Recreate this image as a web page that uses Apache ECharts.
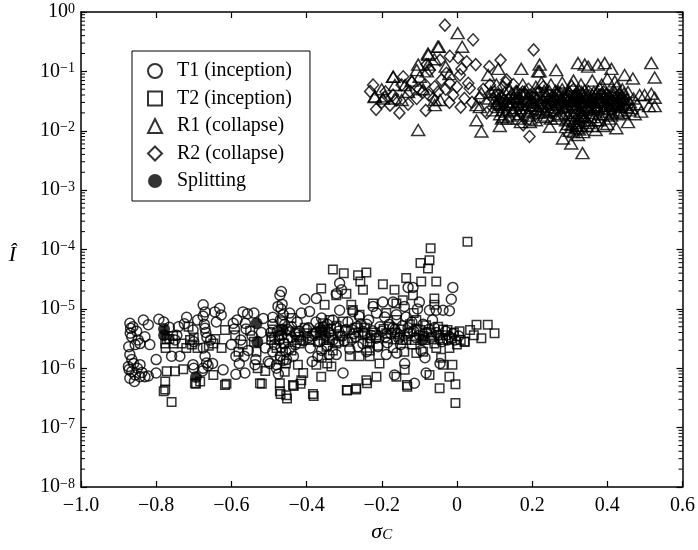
<!DOCTYPE html>
<html>
<head>
<meta charset="utf-8">
<script src="https://cdn.jsdelivr.net/npm/echarts@6/dist/echarts.min.js"></script>
<style>
  html, body { margin: 0; padding: 0; background: #fff; }
  #main { width: 698px; height: 550px; }
</style>
</head>
<body>
<div id="main"></div>
<script>
// data: [sigma_C, I-hat]

var seriesNames = ['T1 (inception)', 'T2 (inception)', 'R1 (collapse)', 'R2 (collapse)', 'Splitting'];

var t1Points = [
  [-0.870,5.7e-6],[-0.868,4.7e-6],[-0.865,3.4e-6],[-0.856,2.5e-6],[-0.843,2.6e-6],[-0.830,3.4e-6],
  [-0.821,5.4e-6],[-0.834,6.5e-6],[-0.817,2.5e-6],[-0.870,1.7e-6],[-0.865,1.4e-6],[-0.874,1.07e-6],
  [-0.865,8.8e-7],[-0.870,6.8e-7],[-0.856,7.7e-7],[-0.843,7.2e-7],[-0.830,7.2e-7],[-0.821,7.4e-7],
  [-0.843,1.15e-6],[-0.850,1.0e-6],[-0.860,1.2e-6],[-0.872,9.5e-7],[-0.862,5.0e-6],[-0.852,4.2e-6],
  [-0.848,3.0e-6],[-0.858,6.0e-7],[-0.838,8.5e-7],[-0.800,1.4e-6],[-0.800,8.3e-7],[-0.793,6.7e-6],
  [-0.873,2.3e-6],[-0.869,3.9e-6],
  [-0.759,1.6e-6],[-0.750,3.0e-6],[-0.741,5.0e-6],[-0.719,7.2e-6],[-0.737,1.6e-6],[-0.702,1.15e-6],
  [-0.702,4.4e-6],[-0.700,2.8e-6],[-0.675,1.17e-5],[-0.670,8.9e-6],[-0.675,7.5e-6],[-0.670,4.7e-6],
  [-0.668,4.0e-6],[-0.675,2.2e-6],[-0.670,1.6e-6],[-0.666,1.23e-6],[-0.675,1.0e-6],[-0.662,1.1e-6],
  [-0.650,1.2e-6],[-0.644,8.9e-6],[-0.631,1.02e-5],[-0.627,7.9e-6],[-0.640,6.0e-6],[-0.622,9.4e-7],
  [-0.677,9.0e-7],[-0.672,5.5e-6],[-0.665,3.3e-6],[-0.745,3.6e-6],[-0.725,5.6e-6],[-0.780,6.0e-6],
  [-0.765,4.9e-6],[-0.700,1.0e-6],[-0.690,6.5e-6],[-0.655,3.0e-6],
  [-0.595,5.7e-6],[-0.592,4.6e-6],[-0.600,2.5e-6],[-0.588,1.6e-6],[-0.579,1.2e-6],[-0.569,8.9e-6],
  [-0.557,8.3e-6],[-0.563,5.7e-6],[-0.561,4.6e-6],[-0.566,1.6e-6],[-0.537,1.15e-6],[-0.535,1.4e-6],
  [-0.564,8.3e-7],[-0.588,7.9e-7],[-0.515,6.9e-6],[-0.490,7.2e-6],[-0.490,1.9e-6],[-0.480,1.15e-6],
  [-0.502,1.3e-6],[-0.545,3.5e-6],[-0.520,4.0e-6],[-0.510,2.2e-6],[-0.575,3.0e-6],[-0.555,2.0e-6],
  [-0.540,8.5e-6],[-0.585,6.5e-6],
  [-0.467,1.96e-5],[-0.471,1.7e-5],[-0.468,1.0e-5],[-0.476,1.1e-5],[-0.465,1.2e-5],[-0.462,8.0e-6],
  [-0.470,6.5e-6],[-0.458,5.5e-6],[-0.466,3.6e-6],[-0.472,3.0e-6],[-0.460,2.6e-6],[-0.468,2.2e-6],
  [-0.455,1.9e-6],[-0.470,1.6e-6],[-0.462,1.35e-6],[-0.498,1.2e-6],[-0.480,1.0e-6],[-0.445,8.5e-6],
  [-0.414,8.5e-6],[-0.392,9.0e-6],[-0.405,1.45e-5],[-0.374,1.5e-5],[-0.450,4.5e-6],[-0.440,3.3e-6],
  [-0.430,2.5e-6],[-0.420,4.2e-6],[-0.410,2.9e-6],[-0.425,6.0e-6],[-0.435,1.6e-6],[-0.446,2.1e-6],
  [-0.478,4.2e-6],[-0.485,2.5e-6],[-0.490,5.5e-6],[-0.453,1.4e-6],[-0.475,8.0e-7],
  [-0.312,2.7e-5],[-0.307,2.1e-5],[-0.321,1.8e-5],[-0.312,9.5e-6],[-0.360,7.0e-6],[-0.355,5.0e-6],
  [-0.350,3.5e-6],[-0.365,2.8e-6],[-0.360,2.0e-6],[-0.370,1.6e-6],[-0.345,2.4e-6],[-0.340,4.0e-6],
  [-0.330,3.0e-6],[-0.380,3.8e-6],[-0.395,4.8e-6],[-0.390,2.2e-6],[-0.375,6.0e-6],[-0.340,1.7e-6],
  [-0.321,1.7e-6],[-0.303,8.3e-7],[-0.330,6.5e-6],[-0.315,4.2e-6],[-0.300,2.9e-6],[-0.385,1.3e-6],
  [-0.277,9.0e-6],[-0.263,2.3e-6],[-0.223,1.1e-5],[-0.214,8.5e-6],[-0.197,1.3e-5],[-0.192,7.3e-6],
  [-0.290,6.0e-6],[-0.280,4.5e-6],[-0.270,3.4e-6],[-0.255,5.5e-6],[-0.245,3.8e-6],[-0.235,6.5e-6],
  [-0.225,4.3e-6],[-0.215,3.2e-6],[-0.205,5.0e-6],[-0.250,2.6e-6],[-0.240,1.9e-6],[-0.285,2.1e-6],
  [-0.260,7.5e-6],[-0.210,2.3e-6],
  [-0.188,1.7e-6],[-0.170,1.3e-5],[-0.166,7.7e-7],[-0.161,8.0e-6],[-0.139,1.2e-6],[-0.135,7.3e-6],
  [-0.130,2.3e-5],[-0.117,2.3e-5],[-0.113,5.6e-7],[-0.180,5.5e-6],[-0.175,3.8e-6],[-0.165,4.5e-6],
  [-0.155,3.2e-6],[-0.145,5.2e-6],[-0.150,2.5e-6],[-0.125,4.0e-6],[-0.120,6.0e-6],[-0.110,3.3e-6],
  [-0.105,1.0e-5],[-0.140,1.1e-5],[-0.185,2.7e-6],[-0.160,1.8e-6],
  [-0.082,8.3e-7],[-0.073,9.5e-6],[-0.055,9.5e-6],[-0.037,9.5e-6],[-0.020,9.3e-6],[-0.015,1.45e-5],
  [-0.011,2.3e-5],[-0.090,5.5e-6],[-0.080,4.0e-6],[-0.070,3.2e-6],[-0.060,4.8e-6],[-0.050,3.6e-6],
  [-0.040,2.8e-6],[-0.030,4.2e-6],[-0.020,3.4e-6],[-0.010,3.8e-6],[-0.095,2.0e-6],[-0.085,1.5e-6],
  [-0.065,6.5e-6],[-0.045,1.2e-6],[-0.005,3.0e-6],[0.005,3.5e-6],[-0.100,1.3e-5],
  [-0.495,4.0e-6],[-0.485,3.3e-6],[-0.440,5.0e-6],[-0.430,3.8e-6],[-0.415,3.0e-6],[-0.400,4.5e-6],
  [-0.395,3.3e-6],[-0.375,4.0e-6],[-0.365,4.8e-6],[-0.345,5.5e-6],[-0.335,3.6e-6],[-0.320,4.8e-6],
  [-0.305,3.5e-6],[-0.295,4.5e-6],[-0.275,3.8e-6],[-0.265,5.0e-6],[-0.250,4.2e-6],[-0.240,5.5e-6],
  [-0.228,3.6e-6],[-0.200,4.2e-6],[-0.190,3.4e-6],[-0.170,4.8e-6],[-0.158,3.8e-6],[-0.140,3.6e-6],
  [-0.130,4.8e-6],[-0.115,4.2e-6],[-0.100,3.6e-6],[-0.075,4.5e-6],[-0.055,4.0e-6],[-0.025,3.0e-6]
];

var t2Points = [
  [-0.776,2.6e-6],[-0.772,3.1e-6],[-0.765,3.1e-6],[-0.754,2.6e-6],[-0.714,5.0e-6],[-0.705,2.5e-6],
  [-0.710,3.0e-6],[-0.732,2.6e-6],[-0.772,8.9e-7],[-0.750,8.9e-7],[-0.728,9.6e-7],[-0.776,6.0e-7],
  [-0.776,4.4e-7],[-0.759,2.7e-7],[-0.697,5.6e-7],[-0.683,6.0e-7],[-0.617,5.2e-7],[-0.648,7.7e-7],
  [-0.617,4.4e-6],[-0.626,2.2e-6],[-0.648,2.6e-6],[-0.643,3.1e-6],[-0.775,2.2e-6],[-0.755,3.5e-6],
  [-0.690,2.2e-6],[-0.694,5.5e-7],[-0.780,4.1e-7],[-0.700,3.3e-6],[-0.720,2.2e-6],[-0.660,2.4e-6],
  [-0.581,1.9e-6],[-0.533,1.9e-6],[-0.493,3.4e-6],[-0.524,5.6e-7],[-0.519,5.5e-7],[-0.613,5.5e-7],
  [-0.550,4.3e-6],[-0.510,9.0e-7],[-0.590,3.6e-6],[-0.570,2.5e-6],[-0.540,2.8e-6],[-0.530,1.0e-6],
  [-0.454,3.5e-7],[-0.471,4.1e-7],[-0.471,5.6e-7],[-0.458,8.7e-7],[-0.452,3.1e-7],[-0.469,3.7e-7],
  [-0.434,5.0e-7],[-0.416,5.5e-7],[-0.436,5.2e-7],[-0.414,6.3e-7],[-0.409,8.3e-7],[-0.423,1.15e-6],
  [-0.418,2.6e-6],[-0.400,3.9e-6],[-0.392,3.0e-6],[-0.494,3.0e-6],[-0.480,2.2e-6],[-0.460,2.6e-6],
  [-0.450,3.2e-6],[-0.440,2.0e-6],[-0.470,1.4e-6],[-0.430,4.0e-6],[-0.420,3.4e-6],[-0.455,1.2e-6],
  [-0.465,6.2e-6],[-0.440,7.0e-6],
  [-0.383,3.7e-7],[-0.381,3.4e-7],[-0.361,7.2e-7],[-0.334,1.07e-6],[-0.374,1.15e-6],[-0.361,2.2e-5],
  [-0.352,1.17e-5],[-0.330,4.6e-5],[-0.321,1.7e-5],[-0.321,2.6e-6],[-0.347,2.3e-6],[-0.356,5.7e-6],
  [-0.339,6.5e-6],[-0.360,3.6e-6],[-0.350,4.4e-6],[-0.340,3.0e-6],[-0.370,2.8e-6],[-0.330,2.0e-6],
  [-0.310,3.5e-6],[-0.320,5.2e-6],[-0.303,6.1e-6],[-0.360,1.5e-6],[-0.345,1.2e-6],
  [-0.301,4.0e-5],[-0.263,3.7e-5],[-0.241,4.1e-5],[-0.257,2.9e-5],[-0.294,1.8e-5],[-0.250,2.1e-5],
  [-0.281,1.17e-5],[-0.223,1.23e-5],[-0.232,2.6e-6],[-0.232,2.0e-6],[-0.232,1.6e-6],[-0.259,1.6e-6],
  [-0.285,1.6e-6],[-0.206,1.2e-6],[-0.214,7.2e-7],[-0.241,6.3e-7],[-0.268,4.6e-7],[-0.293,4.3e-7],
  [-0.239,5.6e-7],[-0.268,4.4e-7],[-0.292,4.2e-7],[-0.259,8.0e-6],[-0.277,9.6e-6],[-0.230,3.2e-6],
  [-0.220,4.0e-6],[-0.270,4.8e-6],[-0.250,3.6e-6],[-0.210,2.4e-6],[-0.290,2.8e-6],
  [-0.197,2.6e-5],[-0.166,2.1e-5],[-0.135,3.3e-5],[-0.117,1.7e-5],[-0.144,1.4e-5],[-0.188,8.5e-6],
  [-0.161,1.23e-5],[-0.161,7.2e-7],[-0.139,9.4e-7],[-0.133,5.2e-7],[-0.132,4.9e-7],[-0.135,3.0e-6],
  [-0.152,3.4e-6],[-0.188,3.9e-6],[-0.108,1.8e-6],[-0.161,6.5e-6],[-0.108,6.5e-6],[-0.108,4.5e-6],
  [-0.120,2.5e-6],[-0.170,2.2e-6],[-0.180,5.0e-6],[-0.150,4.5e-6],[-0.125,5.5e-6],[-0.115,8.5e-6],
  [-0.140,1.9e-6],
  [-0.070,1.05e-4],[0.028,1.35e-4],[-0.097,5.9e-5],[-0.073,6.6e-5],[-0.077,4.8e-5],[-0.095,2.9e-5],
  [-0.055,2.9e-5],[-0.060,1.5e-5],[-0.060,1.17e-5],[0.007,4.2e-6],[0.020,2.8e-6],[-0.020,2.2e-6],
  [-0.042,1.5e-6],[-0.037,1.15e-6],[-0.012,1.15e-6],[-0.020,7.2e-7],[-0.004,5.4e-7],[-0.046,4.6e-7],
  [-0.004,2.6e-7],[-0.073,7.7e-7],[-0.090,1.9e-6],[-0.082,5.3e-6],[-0.037,4.5e-6],[-0.037,3.0e-6],
  [-0.015,3.2e-6],[-0.090,3.5e-6],[-0.060,2.6e-6],[-0.070,4.0e-6],[-0.050,5.0e-6],[-0.030,3.6e-6],
  [0.010,3.0e-6],
  [0.052,5.4e-6],[0.082,5.4e-6],[0.100,3.9e-6],[0.065,3.2e-6],[0.021,2.8e-6],[0.035,4.4e-6],[0.045,3.6e-6],
  [-0.490,4.5e-6],[-0.475,3.6e-6],[-0.445,4.2e-6],[-0.425,3.0e-6],[-0.405,4.8e-6],[-0.385,3.5e-6],
  [-0.365,4.0e-6],[-0.355,3.0e-6],[-0.335,4.6e-6],[-0.315,2.8e-6],[-0.298,4.2e-6],[-0.280,3.2e-6],
  [-0.262,4.0e-6],[-0.245,4.8e-6],[-0.238,2.8e-6],[-0.215,3.6e-6],[-0.195,4.6e-6],[-0.185,3.2e-6],
  [-0.165,4.0e-6],[-0.145,3.0e-6],[-0.130,3.8e-6],[-0.112,3.0e-6],[-0.098,4.4e-6],[-0.085,3.0e-6],
  [-0.065,3.4e-6],[-0.045,3.2e-6],[-0.025,4.4e-6],[-0.008,4.0e-6],[0.000,2.5e-6],[-0.055,2.2e-6]
];

var r1Points = [
  [0.002,0.44],[-0.048,0.26],[0.014,0.26],[-0.076,0.19],[-0.103,0.13],[-0.076,0.13],[-0.107,0.105],
  [-0.099,0.081],[-0.169,0.081],[-0.165,0.059],[-0.138,0.059],[-0.218,0.038],[-0.192,0.038],
  [-0.165,0.035],[-0.147,0.033],[-0.059,0.033],[-0.045,0.033],[-0.059,0.027],[-0.103,0.0103],
  [0.052,0.027],[0.052,0.015],[0.065,0.043],[0.065,0.0097],[0.114,0.012],[0.123,0.017],[0.110,0.11],
  [0.083,0.087],[0.061,0.025],[-0.219,0.037],[-0.197,0.035],[-0.170,0.081],[-0.077,0.2],[-0.051,0.26],
  [-0.120,0.07],[-0.090,0.05],[-0.130,0.045],[-0.200,0.05],[-0.080,0.1],[-0.060,0.16],[-0.030,0.12],
  [-0.020,0.09],
  [0.090,0.045],[0.100,0.032],[0.110,0.025],[0.120,0.038],[0.130,0.021],[0.140,0.05],[0.150,0.03],
  [0.105,0.06],[0.125,0.028],[0.135,0.016],[0.145,0.042],[0.095,0.022],[0.115,0.019],[0.085,0.035],
  [0.155,0.024],
  [0.160,0.037],[0.170,0.028],[0.180,0.045],[0.190,0.021],[0.200,0.033],[0.210,0.055],[0.220,0.026],
  [0.230,0.04],[0.240,0.018],[0.250,0.031],[0.165,0.019],[0.175,0.06],[0.185,0.034],[0.195,0.016],
  [0.205,0.042],[0.215,0.023],[0.225,0.065],[0.235,0.029],[0.245,0.047],[0.170,0.014],[0.200,0.027],
  [0.230,0.022],[0.250,0.06],[0.194,0.014],[0.247,0.0117],[0.220,0.1],[0.216,0.10],[0.220,0.13],
  [0.171,0.11],[0.264,0.105],
  [0.260,0.038],[0.270,0.024],[0.280,0.05],[0.290,0.02],[0.300,0.035],[0.310,0.027],[0.320,0.044],
  [0.330,0.018],[0.340,0.03],[0.350,0.023],[0.265,0.016],[0.275,0.033],[0.285,0.041],[0.295,0.013],
  [0.305,0.058],[0.315,0.02],[0.325,0.036],[0.335,0.026],[0.345,0.015],[0.282,0.0074],[0.304,0.0061],
  [0.322,0.0085],[0.334,0.0042],[0.310,0.0095],[0.320,0.011],[0.330,0.012],[0.300,0.01],[0.290,0.0115],
  [0.322,0.138],[0.340,0.13],[0.349,0.12],[0.280,0.065],[0.310,0.07],[0.330,0.06],[0.265,0.028],
  [0.295,0.032],[0.325,0.024],[0.340,0.048],
  [0.360,0.04],[0.370,0.027],[0.380,0.052],[0.390,0.021],[0.400,0.034],[0.410,0.029],[0.420,0.045],
  [0.430,0.019],[0.440,0.038],[0.450,0.025],[0.355,0.031],[0.365,0.017],[0.375,0.036],[0.385,0.06],
  [0.395,0.026],[0.405,0.016],[0.415,0.032],[0.425,0.055],[0.435,0.022],[0.375,0.13],[0.393,0.138],
  [0.411,0.11],[0.369,0.0103],[0.424,0.011],[0.455,0.014],[0.446,0.087],[0.400,0.075],[0.360,0.07],
  [0.420,0.068],[0.440,0.05],[0.390,0.012],
  [0.468,0.076],[0.517,0.138],[0.526,0.079],[0.486,0.04],[0.499,0.04],[0.517,0.042],[0.526,0.036],
  [0.511,0.026],[0.526,0.026],[0.490,0.021],[0.473,0.019],[0.460,0.03],[0.470,0.035],[0.480,0.028],
  [0.455,0.045],[0.465,0.024],
  [0.205,0.03],[0.212,0.036],[0.218,0.02],[0.228,0.033],[0.238,0.04],[0.242,0.025],[0.252,0.037],
  [0.258,0.022],[0.268,0.044],[0.272,0.03],[0.278,0.019],[0.288,0.036],[0.292,0.026],[0.298,0.045],
  [0.302,0.022],[0.308,0.033],[0.312,0.04],[0.318,0.028],[0.322,0.016],[0.328,0.031],[0.332,0.045],
  [0.338,0.022],[0.342,0.035],[0.348,0.027],[0.352,0.04],[0.358,0.02],[0.362,0.033],[0.368,0.025],
  [0.372,0.045],[0.378,0.019],[0.382,0.03],[0.388,0.038],[0.392,0.023],[0.398,0.042],[0.402,0.028],
  [0.408,0.036],[0.412,0.02],[0.418,0.04],[0.422,0.026],[0.428,0.033],[0.432,0.043],[0.438,0.028],
  [0.442,0.02],[0.448,0.033],[0.188,0.027],[0.178,0.038],[0.168,0.024],[0.158,0.045],[0.148,0.022],
  [0.138,0.035],[0.128,0.045],[0.118,0.027],[0.330,0.0145],[0.350,0.0135],[0.310,0.0145],[0.370,0.015],
  [0.300,0.016],[0.340,0.017],[0.318,0.012],[0.336,0.0095],
  [0.102,0.041],[0.108,0.029],[0.112,0.035],[0.122,0.022],[0.132,0.031],[0.142,0.027],[0.152,0.038],
  [0.162,0.031],[0.172,0.042],[0.182,0.022],[0.192,0.036],[0.198,0.024],[0.208,0.026],[0.214,0.044],
  [0.224,0.03],[0.232,0.047],[0.236,0.021],[0.244,0.035],[0.254,0.027],[0.262,0.047],[0.266,0.033],
  [0.274,0.04],[0.284,0.025],[0.286,0.03],[0.294,0.038],[0.306,0.028],[0.314,0.035],[0.316,0.024],
  [0.324,0.04],[0.326,0.02],[0.334,0.033],[0.336,0.041],[0.344,0.025],[0.346,0.038],[0.354,0.035],
  [0.356,0.025],[0.364,0.045],[0.366,0.03],[0.374,0.024],[0.376,0.033],[0.384,0.026],[0.386,0.042],
  [0.394,0.033],[0.396,0.019],[0.404,0.04],[0.406,0.024],[0.414,0.027],[0.416,0.048],[0.424,0.03],
  [0.426,0.021],[0.434,0.036],[0.436,0.025],[0.444,0.042],[0.446,0.027],[0.452,0.035],[0.458,0.022],
  [0.310,0.018],[0.335,0.018],[0.355,0.017],[0.320,0.0135],[0.345,0.012],[0.325,0.0105],[0.305,0.0125],
  [0.290,0.015],[0.360,0.012],[0.380,0.015],[0.400,0.013],[0.410,0.018],[0.270,0.018],[0.250,0.016],
  [0.230,0.017],[0.210,0.015],[0.190,0.018],[0.160,0.016],[0.140,0.018],[0.120,0.016]
];

var r2Points = [
  [-0.032,0.60],[0.043,0.34],[0.050,0.13],[-0.045,0.155],[-0.019,0.18],[0.003,0.17],[0.026,0.145],
  [0.116,0.155],[0.086,0.12],[-0.223,0.059],[-0.231,0.046],[-0.215,0.023],[-0.178,0.027],[-0.153,0.020],
  [-0.161,0.033],[-0.143,0.081],[-0.147,0.059],[-0.125,0.046],[-0.107,0.035],[-0.083,0.022],
  [-0.063,0.035],[-0.059,0.055],[-0.041,0.072],[-0.028,0.093],[-0.019,0.063],[0.008,0.087],[0.012,0.11],
  [0.030,0.063],[0.034,0.052],[-0.072,0.105],[-0.081,0.13],[0.079,0.020],[0.105,0.027],[0.096,0.035],
  [0.088,0.059],[0.132,0.072],[0.123,0.055],[0.158,0.046],[0.176,0.0126],[0.193,0.008],[0.204,0.23],
  [0.120,0.03],[0.140,0.036],[0.160,0.025],[0.180,0.04],[0.200,0.03],[0.220,0.045],[0.240,0.027],
  [0.260,0.035],[0.280,0.03],[0.300,0.042],[0.320,0.03],[0.340,0.037],[0.360,0.028],[0.380,0.04],
  [0.400,0.03],[0.420,0.035],[0.440,0.03],[0.150,0.06],[0.170,0.02],[0.190,0.05],[0.210,0.019],
  [0.230,0.055],[0.250,0.02],[0.270,0.045],[0.290,0.024],[0.310,0.05],[0.330,0.02],[0.350,0.045],
  [0.370,0.022],[0.390,0.045],[0.410,0.022],[0.430,0.04],[0.070,0.05],[0.060,0.035],[0.100,0.045],
  [0.130,0.065],
  [-0.200,0.03],[-0.190,0.045],[-0.170,0.04],[-0.130,0.028],[-0.120,0.065],[-0.100,0.05],[-0.090,0.045],
  [-0.085,0.06],[-0.075,0.04],[-0.050,0.045],[-0.030,0.05],[-0.010,0.04],[0.000,0.055],[0.020,0.035],
  [0.040,0.03],[0.010,0.025],[-0.020,0.03],
  [0.110,0.04],[0.125,0.033],[0.145,0.028],[0.165,0.035],[0.185,0.03],[0.195,0.04],[0.215,0.033],
  [0.235,0.036],[0.255,0.03],[0.265,0.04],[0.285,0.035],[0.305,0.03],[0.315,0.038],[0.335,0.028],
  [0.345,0.033],[0.365,0.035],[0.385,0.03],[0.395,0.036],[0.415,0.03],[0.435,0.033],[0.445,0.025],
  [0.155,0.03],[0.175,0.045],[0.205,0.036],[0.225,0.028],[0.245,0.04],[0.275,0.026],[0.295,0.04],
  [0.325,0.045],[0.355,0.03]
];

var splitPoints = [
  [-0.779,4.6e-6],[-0.779,3.6e-6],[-0.694,7.1e-7],[-0.533,5.7e-6],[-0.531,2.8e-6],
  [-0.464,4.5e-6],[-0.360,4.4e-6],[-0.092,3.0e-6]
];

// minor ticks of the log axis (2..9 in each decade)
var minorTickValues = [];
for (var e = -8; e < 0; e++) {
  for (var k = 2; k <= 9; k++) {
    minorTickValues.push([-1, k * Math.pow(10, e)]);
  }
}

var serif = 'Liberation Serif';
var ink = '#000';

function hollow(color) {
  return { color: 'rgba(0,0,0,0)', borderColor: color, borderWidth: 1.5 };
}

var myChart = echarts.init(document.getElementById('main'), null, { renderer: 'canvas' });

var xTicks = {
  type: 'value', min: -1, max: 0.6, interval: 0.2,
  axisLine: { show: true, onZero: false, lineStyle: { color: '#000', width: 1.5 } },
  axisTick: { show: true, inside: true, length: 6, lineStyle: { color: '#000', width: 1.2 } },
  splitLine: { show: false }
};
var yTicks = {
  type: 'log', logBase: 10, min: 1e-8, max: 1, interval: 1,
  axisLine: { show: true, onZero: false, lineStyle: { color: '#000', width: 1.5 } },
  axisTick: { show: true, inside: true, length: 6, lineStyle: { color: '#000', width: 1.2 } },
  splitLine: { show: false }
};

var option = {
  backgroundColor: '#fff',
  animation: false,
  grid: { left: 81, right: 15, top: 12, bottom: 63 },
  legend: {
    data: seriesNames,
    orient: 'vertical',
    left: 132, top: 51,
    padding: [10, 18, 10, 15],
    itemWidth: 14, itemHeight: 14, itemGap: 7.5,
    borderColor: '#000', borderWidth: 1,
    backgroundColor: '#fff',
    selectedMode: false,
    formatter: function (name) { return '{t|' + name + '}'; },
    textStyle: {
      fontFamily: serif, fontSize: 20, color: '#000',
      rich: { t: { fontFamily: serif, fontSize: 20, color: '#000', lineHeight: 20, padding: [0, 0, 0, 10] } }
    }
  },
  xAxis: [
    Object.assign({}, xTicks, {
      position: 'bottom',
      name: '{a|σ}{b|C}', nameLocation: 'middle', nameGap: 32,
      nameTextStyle: {
        rich: {
          a: { fontFamily: serif, fontStyle: 'italic', fontSize: 22, color: '#000', verticalAlign: 'top', lineHeight: 22 },
          b: { fontFamily: serif, fontStyle: 'italic', fontSize: 15, color: '#000', verticalAlign: 'bottom', lineHeight: 15 }
        }
      },
      axisLabel: {
        margin: 9, fontFamily: serif, fontSize: 20, color: '#000',
        formatter: function (v) {
          if (Math.abs(v) < 1e-9) return '0';
          return (v < 0 ? '\u2212' : '') + Math.abs(v).toFixed(1);
        }
      }
    }),
    Object.assign({}, xTicks, { position: 'top', axisLabel: { show: false } })
  ],
  yAxis: [
    Object.assign({}, yTicks, {
      position: 'left',
      name: 'Î', nameLocation: 'middle', nameGap: 65, nameRotate: 0,
      nameTextStyle: { fontFamily: serif, fontStyle: 'italic', fontSize: 22, color: '#000', verticalAlign: 'top', lineHeight: 12 },
      axisLabel: {
        margin: 6,
        formatter: function (v) {
          var ex = Math.round(Math.log10(v));
          return '{b|10}{s|' + (ex < 0 ? '\u2212' : '') + Math.abs(ex) + '}';
        },
        rich: {
          b: { fontFamily: serif, fontSize: 20, color: '#000', lineHeight: 20, verticalAlign: 'bottom' },
          s: { fontFamily: serif, fontSize: 14, color: '#000', lineHeight: 14, verticalAlign: 'top' }
        }
      }
    }),
    Object.assign({}, yTicks, { position: 'right', axisLabel: { show: false } })
  ],
  series: [
    {
      name: 'minor', type: 'custom', silent: true, clip: false, z: 5,
      data: minorTickValues,
      renderItem: function (params, api) {
        var v = api.value(1);
        var pl = api.coord([-1, v]);
        var pr = api.coord([0.6, v]);
        return {
          type: 'group',
          children: [
            { type: 'line', shape: { x1: pl[0], y1: pl[1], x2: pl[0] + 4, y2: pl[1] }, style: { stroke: '#000', lineWidth: 1 } },
            { type: 'line', shape: { x1: pr[0] - 4, y1: pr[1], x2: pr[0], y2: pr[1] }, style: { stroke: '#000', lineWidth: 1 } }
          ]
        };
      }
    },
    { name: seriesNames[0], type: 'scatter', symbol: 'circle', symbolSize: 10, data: t1Points, itemStyle: hollow(ink) },
    { name: seriesNames[1], type: 'scatter', symbol: 'rect', symbolSize: 8.5, data: t2Points, itemStyle: hollow(ink) },
    { name: seriesNames[2], type: 'scatter', symbol: 'triangle', symbolSize: [13, 11], data: r1Points, itemStyle: hollow(ink) },
    { name: seriesNames[3], type: 'scatter', symbol: 'diamond', symbolSize: [11, 12], data: r2Points, itemStyle: hollow(ink) },
    { name: seriesNames[4], type: 'scatter', symbol: 'circle', symbolSize: 12, data: splitPoints, itemStyle: { color: '#000' }, z: 4 }
  ]
};

myChart.setOption(option);
</script>
</body>
</html>
